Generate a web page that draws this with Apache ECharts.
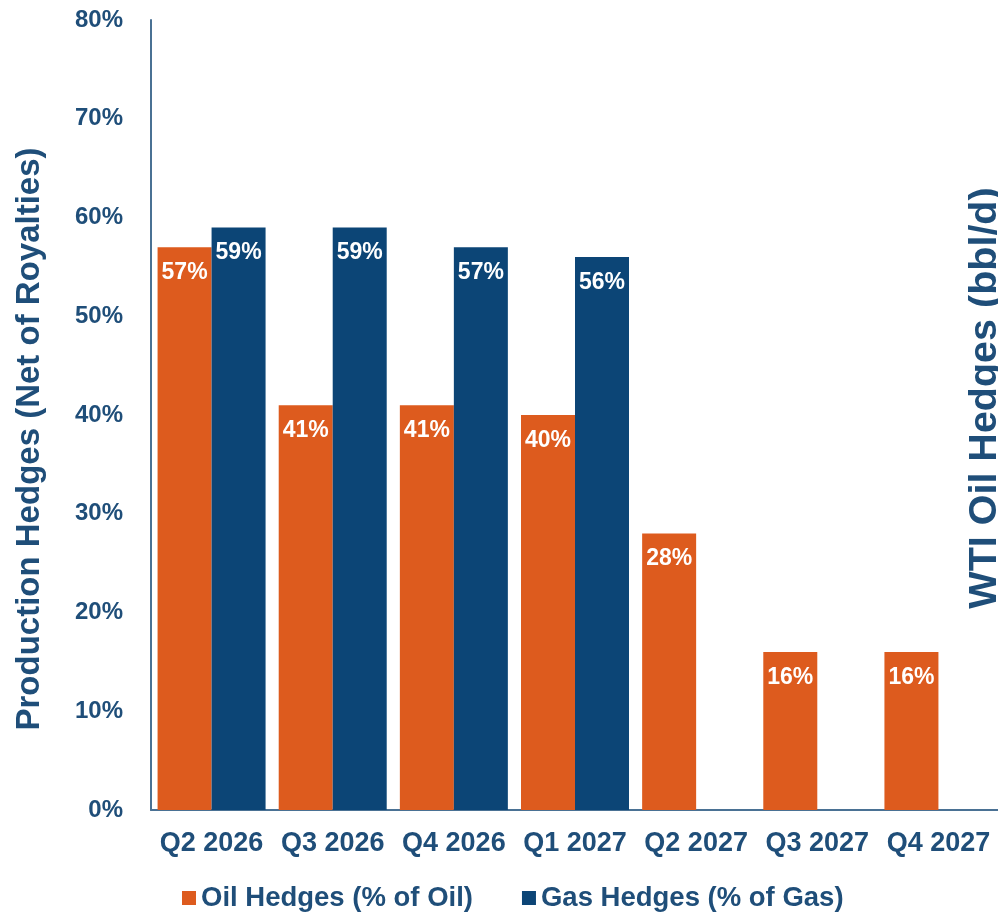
<!DOCTYPE html>
<html>
<head>
<meta charset="utf-8">
<script src="https://cdn.jsdelivr.net/npm/echarts@6/dist/echarts.min.js"></script>
<style>
html,body{margin:0;padding:0;background:#fff;}
#main{width:998px;height:918px;}
</style>
</head>
<body>
<div id="main"></div>
<script>
const categories = ['Q2 2026', 'Q3 2026', 'Q4 2026', 'Q1 2027', 'Q2 2027', 'Q3 2027', 'Q4 2027'];
const oilHedges = [57, 41, 41, 40, 28, 16, 16];
const gasHedges = [59, 59, 57, 56, null, null, null];
const seriesNames = ['Oil Hedges (% of Oil)', 'Gas Hedges (% of Gas)'];
const leftAxisName = 'Production Hedges (Net of Royalties)';
const rightAxisName = 'WTI Oil Hedges (bbl/d)';

const NAVY_TEXT = '#1f4e79';
const ORANGE = '#dd5b1e';
const NAVY = '#0c4576';
const FONT = "'Liberation Sans', Arial, sans-serif";

const chart = echarts.init(document.getElementById('main'));
const labelCfg = {
  show: true,
  position: 'insideTop',
  distance: 14,
  color: '#ffffff',
  fontWeight: 'bold',
  fontSize: 23,
  fontFamily: FONT,
  formatter: p => p.value + '%'
};
chart.setOption({
  animation: false,
  backgroundColor: '#ffffff',
  grid: { left: 151, top: 20, width: 848, height: 790, containLabel: false, outerBoundsMode: 'none' },
  legend: {
    left: 177,
    top: 879,
    itemWidth: 14,
    itemHeight: 14,
    itemGap: 49,
    icon: 'rect',
    textStyle: { color: NAVY_TEXT, fontSize: 27.5, fontWeight: 'bold', fontFamily: FONT },
    data: seriesNames
  },
  xAxis: {
    type: 'category',
    data: categories,
    axisLine: { lineStyle: { color: '#4a7194', width: 2 } },
    axisTick: { show: false },
    axisLabel: { interval: 0, hideOverlap: false, color: NAVY_TEXT, fontSize: 27, fontWeight: 'bold', fontFamily: FONT, margin: 20 }
  },
  yAxis: {
    type: 'value',
    min: 0,
    max: 80,
    interval: 10,
    axisLine: { show: true, lineStyle: { color: '#4a7194', width: 2 } },
    axisTick: { show: false },
    splitLine: { show: false },
    axisLabel: { color: NAVY_TEXT, fontSize: 24, fontWeight: 'bold', fontFamily: FONT, margin: 28, formatter: v => v + '%' }
  },
  graphic: [{
    type: 'text',
    x: 30,
    y: 439,
    rotation: Math.PI / 2,
    style: {
      text: leftAxisName,
      fill: NAVY_TEXT,
      font: 'bold 33px ' + FONT,
      textAlign: 'center',
      textVerticalAlign: 'middle'
    }
  }, {
    type: 'text',
    x: 985,
    y: 398,
    rotation: Math.PI / 2,
    style: {
      text: rightAxisName,
      fill: NAVY_TEXT,
      font: 'bold 39.5px ' + FONT,
      textAlign: 'center',
      textVerticalAlign: 'middle'
    }
  }],
  series: [
    { name: seriesNames[0], type: 'bar', data: oilHedges, barWidth: 54, barGap: '0%', itemStyle: { color: ORANGE }, label: labelCfg },
    { name: seriesNames[1], type: 'bar', data: gasHedges, barWidth: 54, barGap: '0%', itemStyle: { color: NAVY }, label: labelCfg }
  ]
});
</script>
</body>
</html>
